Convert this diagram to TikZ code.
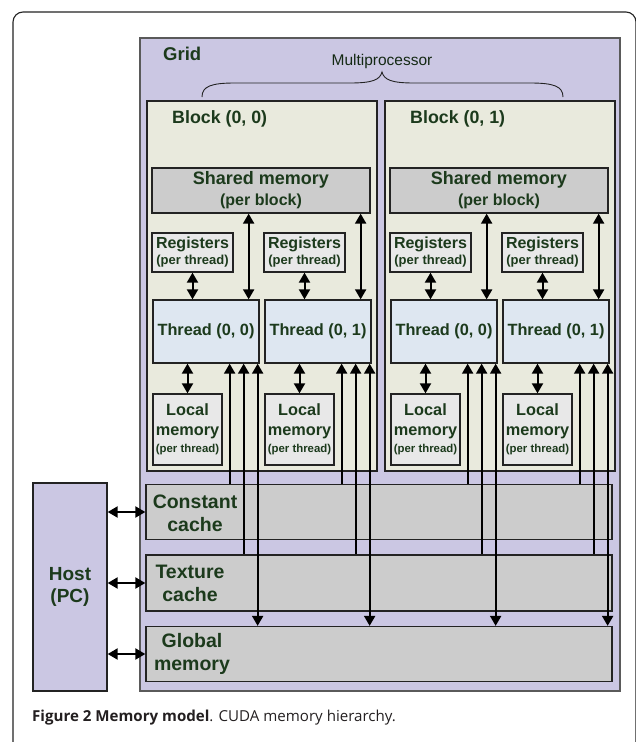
\documentclass[tikz,border=0pt]{standalone}
\usepackage{fontspec}
\setmainfont{Liberation Sans}
\newfontfamily\capfont{Open Sans}
\usetikzlibrary{arrows.meta,calc}

\definecolor{gridfill}{RGB}{203,199,227}
\definecolor{blockfill}{RGB}{233,234,221}
\definecolor{memfill}{RGB}{204,204,204}
\definecolor{regfill}{RGB}{232,232,232}
\definecolor{thrfill}{RGB}{222,231,241}
\definecolor{txtgreen}{RGB}{28,58,28}
\definecolor{edge}{RGB}{35,35,35}
\definecolor{captext}{RGB}{35,31,32}

\tikzset{
  box/.style={draw=edge, line width=1.3pt, inner sep=0pt, text=txtgreen, align=center},
  lbl/.style={text=txtgreen, align=center, inner sep=0pt},
  tip/.tip={Triangle[length=10pt,width=11pt]},
  dbl/.style={tip-tip, line width=2pt, black},
  upar/.style={tip-, line width=2pt, black},
}

\begin{document}
\begin{tikzpicture}[x=1pt,y=-1pt]
\useasboundingbox (0,0) rectangle (635,742);

% figure frame
\draw[edge, line width=1.1pt, rounded corners=10pt] (13,750) -- (13,12) -- (636,12) -- (636,750);

% grid
\node[box, draw=edge!75, fill=gridfill, minimum width=480pt, minimum height=653pt] (grid) at (380,364.5) {};
\node[lbl, anchor=west, font=\bfseries\fontsize{18.5}{21}\selectfont] (gridlbl) at (163,54) {Grid};
\node[inner sep=0pt, text=txtgreen!70!black, font=\fontsize{15.5}{18}\selectfont] (mp) at (382,61) {Multiprocessor};
\draw[edge, line width=0.9pt] (202,97) .. controls (202,86) and (212,83) .. (235,83) -- (350,83)
  .. controls (372,83) and (380,80) .. (382,72) .. controls (384,80) and (392,83) .. (414,83)
  -- (530,83) .. controls (553,83) and (563,86) .. (563,97);

% shared caches and global memory
\node[box, fill=memfill, minimum width=466pt, minimum height=55pt] (cc) at (379,512) {};
\node[box, fill=memfill, minimum width=466pt, minimum height=56pt] (tc) at (379,583) {};
\node[box, fill=memfill, minimum width=466pt, minimum height=55pt] (gm) at (379,654) {};
\node[lbl, font=\bfseries\fontsize{19.5}{23}\selectfont] (cctxt) at (195,513) {Constant\\cache};
\node[lbl, font=\bfseries\fontsize{19.5}{23}\selectfont] (tctxt) at (190,583) {Texture\\cache};
\node[lbl, font=\bfseries\fontsize{19.5}{23}\selectfont] (gmtxt) at (192,654) {Global\\memory};

% host
\node[box, fill=gridfill, minimum width=74pt, minimum height=208pt,
      font=\bfseries\fontsize{19}{22}\selectfont] (host) at (70,587) {Host\\(PC)};
\foreach \m in {cc,tc,gm}
  \draw[dbl] (host.east |- \m.west) -- (\m.west);

% blocks
\foreach \b/\dx in {0/0,1/238} {
  \node[box, fill=blockfill, minimum width=230pt, minimum height=370pt] (blk\b) at ({262+\dx},286) {};
  \node[lbl, anchor=west, font=\bfseries\fontsize{17.8}{20}\selectfont] (blbl\b) at ({172+\dx},119) {Block (0, \b)};
  \node[box, fill=memfill, minimum width=218pt, minimum height=45pt,
        font=\bfseries\fontsize{18}{21}\selectfont] (sm\b) at ({261+\dx},190.5)
        {Shared memory\\{\fontsize{16}{18}\selectfont (per block)}};
  \foreach \t/\tx in {0/0,1/112} {
    \node[box, fill=regfill, minimum width=81pt, minimum height=39pt,
          font=\bfseries\fontsize{16}{16}\selectfont] (reg\b\t) at ({192.5+\dx+\tx},252.5)
          {Registers\\{\fontsize{13}{15}\selectfont (per thread)}};
    \node[box, fill=thrfill, minimum width=106pt, minimum height=63pt,
          font=\bfseries\fontsize{16.3}{19}\selectfont] (thr\b\t) at ({206+\dx+\tx},331.5)
          {Thread (0, \t)};
    \node[box, fill=regfill, minimum width=69pt, minimum height=71pt,
          font=\bfseries\fontsize{16.3}{20}\selectfont] (loc\b\t) at ({187.5+\dx+\tx},429.5)
          {Local\\memory\\[-3pt]{\fontsize{11.4}{13}\selectfont (per thread)}};
  }
}

% block-level links
\foreach \b in {0,1} {
  \foreach \t in {0,1} {
    \draw[dbl] (reg\b\t.south) -- (reg\b\t.south |- thr\b\t.north);
    \coordinate (sa\b\t) at ($(thr\b\t.north east)+(-11,0)$);
    \draw[dbl] (sa\b\t |- sm\b.south) -- (sa\b\t);
    \draw[dbl] (thr\b\t.south -| loc\b\t.north) -- (loc\b\t.north);
    \coordinate (ua\b\t) at ($(thr\b\t.south east)+(-30,0)$);
    \coordinate (ub\b\t) at ($(thr\b\t.south east)+(-16,0)$);
    \coordinate (uc\b\t) at ($(thr\b\t.south east)+(-2,0)$);
    \draw[upar] (ua\b\t) -- (ua\b\t |- cc.north);
    \draw[upar] (ub\b\t) -- (ub\b\t |- tc.north);
    \draw[dbl] (uc\b\t) -- (uc\b\t |- gm.north);
  }
}

% caption
\node[anchor=base west, inner sep=0pt, text=captext, font=\capfont\fontsize{15.1}{18}\selectfont] (cap) at (32,721)
  {\textbf{Figure 2 Memory model}. CUDA memory hierarchy.};
\end{tikzpicture}
\end{document}
